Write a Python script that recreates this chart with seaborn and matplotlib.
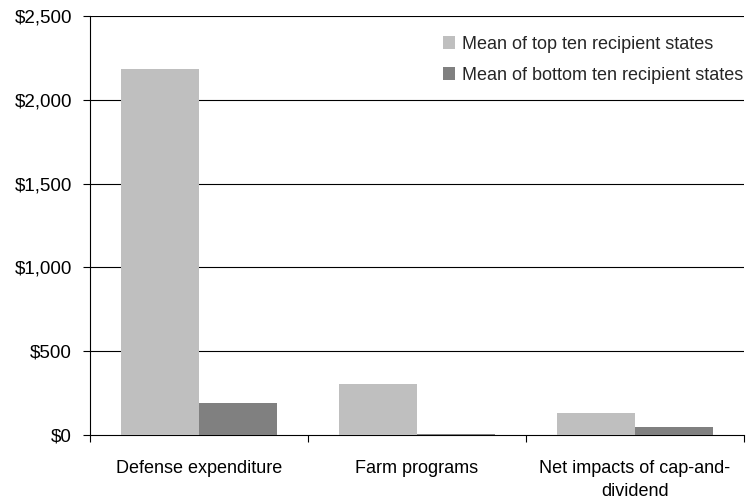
import matplotlib
matplotlib.use("Agg")
import matplotlib.pyplot as plt
import seaborn as sns
import pandas as pd
from matplotlib.ticker import FuncFormatter, FixedLocator

categories = ["Defense expenditure", "Farm programs", "Net impacts of cap-and-\ndividend"]
series_names = ["Mean of top ten recipient states", "Mean of bottom ten recipient states"]
top_ten = [2185, 305, 132]
bottom_ten = [192, 8, 48]
colors = ["#BFBFBF", "#808080"]
yticks = [0, 500, 1000, 1500, 2000, 2500]

df = pd.DataFrame({
    "category": categories * 2,
    "series": [series_names[0]] * 3 + [series_names[1]] * 3,
    "value": top_ten + bottom_ten,
})

sns.set_theme(style="white")
plt.rcParams["font.family"] = ["Liberation Sans", "DejaVu Sans"]

fig = plt.figure(figsize=(7.52, 5.04), dpi=100)
ax = fig.add_axes([90 / 752, 1 - 435 / 504, (744 - 90) / 752, (435 - 16) / 504])

sns.barplot(data=df, x="category", y="value", hue="series", palette=colors,
            width=0.72, saturation=1, ax=ax, errorbar=None, zorder=3,
            edgecolor="none", linewidth=0)

ax.set_xlim(-0.5, 2.5)
ax.set_ylim(0, 2500)
ax.set_yticks(yticks)
ax.yaxis.set_major_formatter(FuncFormatter(lambda v, p: f"${v:,.0f}"))
for y in yticks[1:]:
    ax.axhline(y, color="black", lw=0.8, zorder=1)

ax.set_xlabel("")
ax.set_ylabel("")
ax.xaxis.set_minor_locator(FixedLocator([-0.5, 0.5, 1.5, 2.5]))
ax.tick_params(axis="x", which="major", length=0, pad=18, labelsize=13, colors="black")
ax.tick_params(axis="x", which="minor", length=5, width=0.8, color="black", bottom=True, direction="out")
ax.tick_params(axis="y", which="major", length=5, width=0.8, color="black", left=True, direction="out",
               labelsize=13.5, labelcolor="black", pad=8)
for lbl in ax.get_xticklabels():
    lbl.set_horizontalalignment("center")
    lbl.set_linespacing(1.45)

for s in ["top", "right"]:
    ax.spines[s].set_visible(False)
for s in ["left", "bottom"]:
    ax.spines[s].set_color("black")
    ax.spines[s].set_linewidth(0.8)

leg = ax.legend(loc="upper right", bbox_to_anchor=(1.012, 0.975), frameon=True, fontsize=13,
                handlelength=0.7, handleheight=0.7, handletextpad=0.35, labelspacing=0.8,
                borderaxespad=0.1)
leg.get_frame().set_edgecolor("none")
leg.get_frame().set_facecolor("white")
leg.get_frame().set_alpha(1)

fig.savefig("out.png", dpi=100)
